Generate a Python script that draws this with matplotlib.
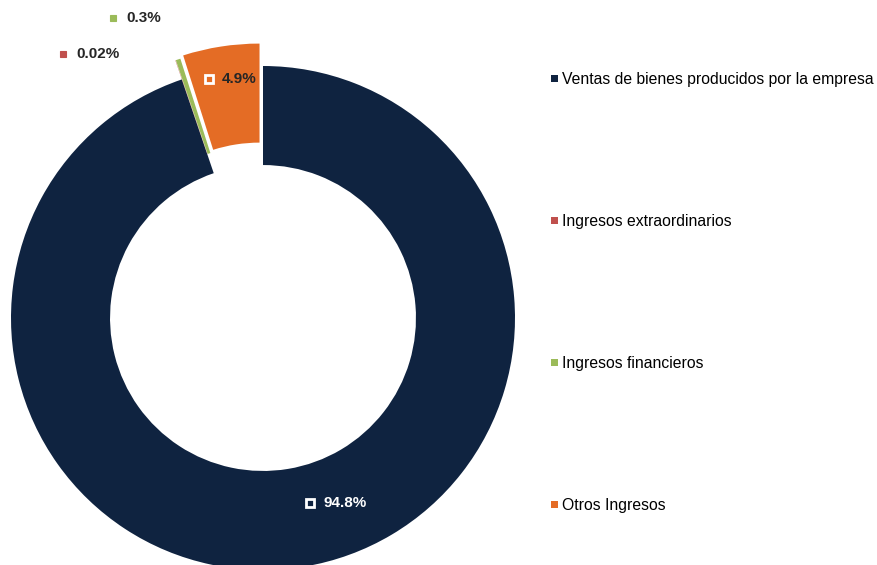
import matplotlib.pyplot as plt
from matplotlib.patches import Patch

# data
categories = ['Ventas de bienes producidos por la empresa', 'Ingresos extraordinarios',
              'Ingresos financieros', 'Otros Ingresos']
shares = [94.8, 0.02, 0.3, 4.9]
share_labels = ['94.8%', '0.02%', '0.3%', '4.9%']
colors = ['#0F2340', '#C0504D', '#9BBB59', '#E46C25']
explode = [0.0, 0.08, 0.08, 0.09]

W, H = 878, 565
CX, CY, R = 263, 318, 252  # pie centre / radius in pixels


def px(x, y):
    # pixel (from top-left) -> data coords of the pie axes
    return (x - CX) / R, (CY - y) / R


fig = plt.figure(figsize=(W / 100, H / 100), dpi=100)
ax = fig.add_axes([0, 0, 1, 1])
wedges, _ = ax.pie(shares, colors=colors, startangle=90, counterclock=False,
                   explode=explode, radius=1.0,
                   wedgeprops=dict(width=0.393, edgecolor='none'))
ax.set_xlim(-CX / R, (W - CX) / R)
ax.set_ylim(-(H - CY) / R, CY / R)
ax.axis('off')

# data labels: (marker x, y, text colour, marker face, marker edge)
label_layout = [
    (310, 503, 'white', 'none', 'white'),
    (63, 54, '#262626', colors[1], colors[1]),
    (113, 18, '#262626', colors[2], colors[2]),
    (209, 79, '#262626', 'none', 'white'),
]
for txt, (mx, my, tc, fc, ec) in zip(share_labels, label_layout):
    x, y = px(mx, my)
    ax.plot(x, y, marker='s', ms=6 if fc == 'none' else 5, mfc=fc, mec=ec,
            mew=2 if fc == 'none' else 0.8)
    tx, ty = px(mx + 13, my)
    ax.text(tx, ty, txt, color=tc, fontsize=11, fontweight='bold',
            family=['Liberation Sans', 'DejaVu Sans'], va='center', ha='left')

handles = [Patch(facecolor=c, edgecolor='none') for c in colors]
fig.legend(handles, categories, loc='upper left',
           bbox_to_anchor=(551 / W, 1 - 72 / H), frameon=False,
           prop=dict(family=['Liberation Sans', 'DejaVu Sans'], size=11.3),
           handlelength=0.45, handleheight=0.35, handletextpad=0.25,
           labelspacing=8.1, borderpad=0, borderaxespad=0)

fig.savefig('out.png', dpi=100)
